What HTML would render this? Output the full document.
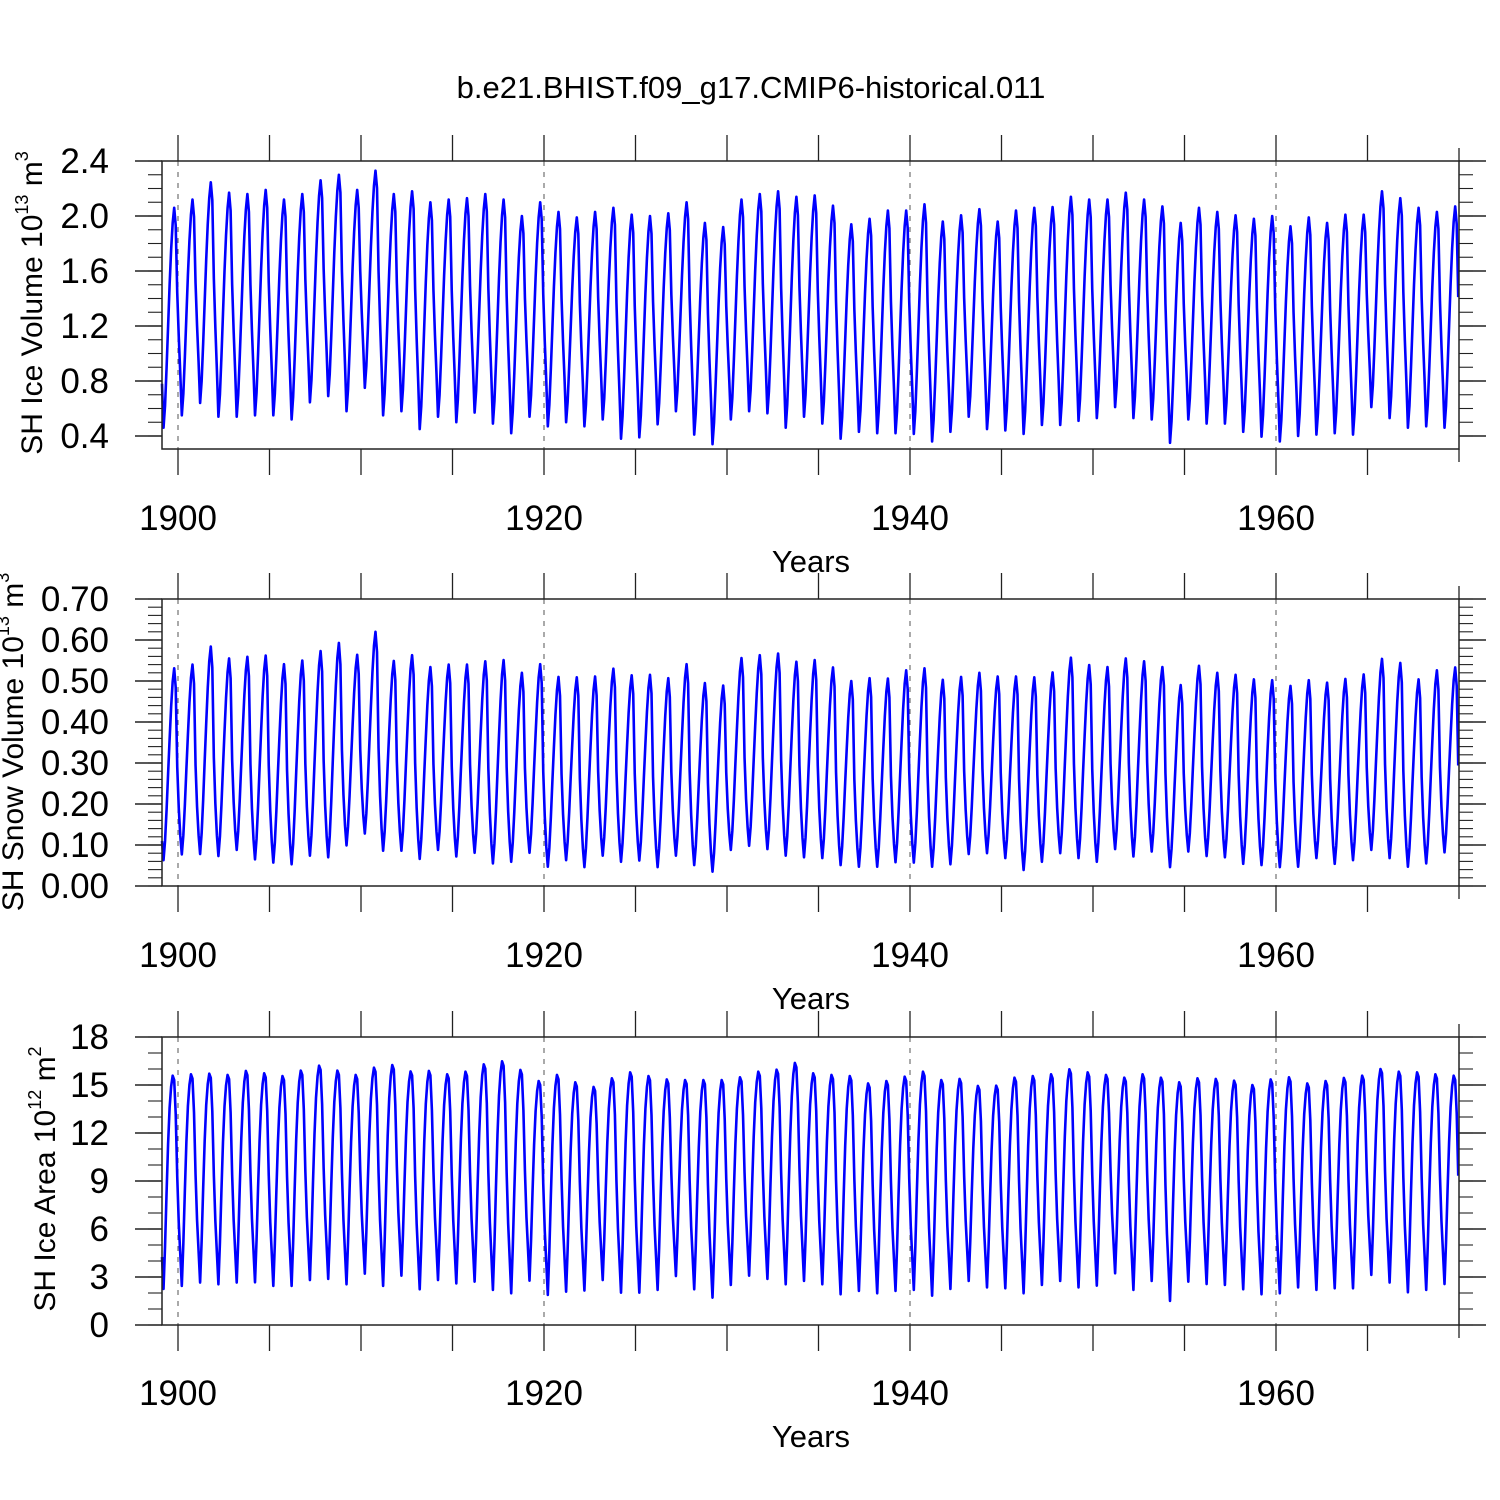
<!DOCTYPE html>
<html><head><meta charset="utf-8">
<style>
html,body{margin:0;padding:0;background:#fff;}
svg{display:block;font-family:"Liberation Sans",Arial,sans-serif;}
</style></head>
<body>
<svg id="chart" width="1500" height="1500" viewBox="0 0 1500 1500" xmlns="http://www.w3.org/2000/svg">
<rect width="1500" height="1500" fill="#fff"/>
<text x="751" y="98" font-size="31" text-anchor="middle">b.e21.BHIST.f09_g17.CMIP6-historical.011</text>
<g id="panels"></g>
</svg>
<script>
// ---- data (years 1899..1969) ----
const years = [];
for (let y = 1899; y <= 1969; y++) years.push(y);

const volPeak = [2.06,2.12,2.245,2.17,2.16,2.19,2.12,2.16,2.26,2.30,2.19,2.33,2.16,2.18,2.10,2.12,2.13,2.16,2.12,2.00,2.10,2.03,1.99,2.03,2.06,2.01,2.00,2.02,2.10,1.95,1.92,2.12,2.16,2.18,2.14,
2.15,2.075,1.94,1.98,2.04,2.04,2.085,1.96,2.005,2.05,1.96,2.04,2.06,2.065,2.14,2.12,2.12,2.17,2.12,2.07,1.95,2.06,2.03,2.005,1.98,2.00,1.925,1.99,1.95,2.01,2.01,2.18,2.13,2.06,2.03,2.07];
const volTrough = [0.46,0.55,0.64,0.54,0.54,0.55,0.55,0.52,0.645,0.69,0.58,0.75,0.55,0.58,0.45,0.54,0.50,0.57,0.49,0.42,0.54,0.47,0.50,0.47,0.52,0.38,0.39,0.485,0.58,0.41,0.34,0.52,0.58,0.565,0.46,
0.54,0.49,0.38,0.43,0.42,0.42,0.415,0.36,0.43,0.54,0.45,0.44,0.415,0.48,0.48,0.51,0.53,0.61,0.53,0.52,0.35,0.52,0.49,0.49,0.43,0.395,0.36,0.40,0.41,0.42,0.41,0.61,0.53,0.46,0.47,0.46];
const volShape = [0.38,0.2,0.0,0.1,0.27,0.46,0.65,0.81,0.93,1.0,0.92,0.59];

const snowPeak = [0.531,0.540,0.584,0.555,0.559,0.562,0.541,0.550,0.573,0.593,0.564,0.620,0.549,0.563,0.534,0.540,0.540,0.548,0.551,0.520,0.541,0.510,0.509,0.511,0.530,0.514,0.515,0.507,0.541,0.495,0.489,0.556,0.563,0.567,0.547,
0.551,0.533,0.500,0.507,0.506,0.526,0.531,0.503,0.510,0.520,0.511,0.511,0.509,0.521,0.557,0.539,0.534,0.555,0.548,0.534,0.490,0.537,0.520,0.515,0.504,0.502,0.488,0.502,0.496,0.505,0.516,0.554,0.544,0.504,0.526,0.533];
const snowTrough = [0.063,0.077,0.078,0.073,0.088,0.065,0.057,0.053,0.074,0.070,0.099,0.128,0.086,0.086,0.066,0.088,0.072,0.081,0.055,0.059,0.081,0.047,0.063,0.046,0.074,0.059,0.062,0.046,0.074,0.051,0.035,0.088,0.098,0.090,0.074,
0.070,0.068,0.051,0.047,0.047,0.058,0.057,0.047,0.053,0.078,0.080,0.068,0.039,0.059,0.080,0.068,0.059,0.090,0.072,0.084,0.046,0.084,0.073,0.070,0.054,0.051,0.046,0.047,0.068,0.054,0.063,0.088,0.068,0.047,0.055,0.082];
const snowShape = [0.25,0.1,0.0,0.1,0.26,0.45,0.63,0.8,0.93,1.0,0.9,0.47];

const areaPeak = [15.58,15.67,15.71,15.63,15.88,15.73,15.56,15.90,16.21,15.90,15.63,16.08,16.25,15.85,15.88,15.67,15.83,16.29,16.48,15.94,15.25,15.63,15.17,14.88,15.42,15.79,15.56,15.35,15.31,15.31,15.31,15.48,15.83,15.96,16.38,
15.73,15.63,15.56,15.10,15.25,15.52,15.83,15.31,15.38,14.94,14.96,15.46,15.56,15.67,15.98,15.79,15.63,15.46,15.67,15.46,15.17,15.42,15.38,15.27,15.00,15.35,15.48,15.10,15.25,15.44,15.58,16.00,15.83,15.79,15.67,15.58];
const areaTrough = [2.25,2.44,2.65,2.54,2.65,2.67,2.44,2.44,2.81,2.88,2.54,3.21,2.44,3.08,2.23,2.81,2.60,2.71,2.19,1.98,2.77,1.88,2.08,2.15,2.81,2.02,2.02,2.19,3.06,2.23,1.71,2.50,3.08,2.88,2.54,
2.75,2.54,1.92,2.13,1.98,2.13,2.19,1.83,2.25,2.75,2.35,2.29,1.98,2.50,2.75,2.35,2.46,3.23,2.19,2.75,1.50,2.71,2.56,2.50,2.23,1.92,1.98,2.35,2.19,2.29,2.29,3.13,2.65,2.04,2.19,2.56];
const areaShape = [0.3,0.15,0.0,0.2,0.45,0.68,0.85,0.95,1.0,0.98,0.82,0.52];

const xTickLabels = ["1900","1920","1940","1960"];
const xTickYears = [1900,1920,1940,1960];

// ---- layout ----
const X0 = 162, X1 = 1459;
function xScale(t){ return 178 + (t - 1900) * 18.3; }
const NS = "http://www.w3.org/2000/svg";
const root = document.getElementById('panels');
function el(tag, attrs, parent){
  const e = document.createElementNS(NS, tag);
  for (const k in attrs) e.setAttribute(k, attrs[k]);
  (parent||root).appendChild(e);
  return e;
}

function monthly(peak, trough, shape){
  const out = [];
  for (let i = 0; i <= 850; i++){
    const year = 1899 + Math.floor((i+1)/12);
    const m = (i+1) % 12;
    const k = year - 1899;
    let lo, hi;
    if (m >= 2 && m <= 10){ lo = trough[k]; hi = peak[k]; }
    else if (m === 11){ lo = trough[Math.min(k+1, trough.length-1)]; hi = peak[k]; }
    else { lo = trough[k]; hi = peak[Math.max(k-1,0)]; }
    out.push({t: 1899 + (m+0.5)/12 + (year-1899), v: lo + (hi-lo)*shape[m]});
  }
  return out;
}

const panels = [
  {name:'ice-volume', top:161, bot:449, vTop:2.4, scale:137.5, majors:[0.4,0.8,1.2,1.6,2.0,2.4], labels:["0.4","0.8","1.2","1.6","2.0","2.4"], minorStep:0.1, minorFrom:0.4, minorTo:2.4,
   peak:volPeak, trough:volTrough, shape:volShape, title:["SH Ice Volume 10","13"," m","3"], tx:42, ty:303, yearsY:572, labY:530},
  {name:'snow-volume', top:599, bot:886, vTop:0.7, scale:410, majors:[0,0.1,0.2,0.3,0.4,0.5,0.6,0.7], labels:["0.00","0.10","0.20","0.30","0.40","0.50","0.60","0.70"], minorStep:0.02, minorFrom:0, minorTo:0.7,
   peak:snowPeak, trough:snowTrough, shape:snowShape, title:["SH Snow Volume 10","13"," m","3"], tx:23, ty:742, yearsY:1009, labY:967},
  {name:'ice-area', top:1037, bot:1325, vTop:18, scale:16, majors:[0,3,6,9,12,15,18], labels:["0","3","6","9","12","15","18"], minorStep:1, minorFrom:0, minorTo:18,
   peak:areaPeak, trough:areaTrough, shape:areaShape, title:["SH Ice Area 10","12"," m","2"], tx:55, ty:1179, yearsY:1447, labY:1405}
];

panels.forEach(p => {
  const g = el('g', {});
  
  
  const yS = v => p.top + (p.vTop - v) * p.scale;

  xTickYears.forEach(yr => {
    const gl = el('line', {x1:xScale(yr), x2:xScale(yr), y1:p.top, y2:p.bot, stroke:'#555', 'stroke-width':1, 'stroke-dasharray':'5,6'}, g);
    
    
  });

  const pts = monthly(p.peak, p.trough, p.shape);
  const d = pts.map((q,i) => (i?'L':'M') + xScale(q.t).toFixed(2) + ',' + yS(q.v).toFixed(2)).join('');
  const path = el('path', {d:d, fill:'none', stroke:'#0000ff', 'stroke-width':2.6, 'stroke-linejoin':'round'}, g);
  
  

  const fr = el('rect', {x:X0, y:p.top, width:X1-X0, height:p.bot-p.top, fill:'none', stroke:'#222', 'stroke-width':1.5}, g);
  
  

  for (let yr = 1900; yr <= 1970; yr += 5){
    const x = xScale(yr);
    const len = yr === 1970 ? 13 : 26;
    el('line', {x1:x, x2:x, y1:p.top-len, y2:p.top, stroke:'#222', 'stroke-width':1.3}, g);
    el('line', {x1:x, x2:x, y1:p.bot, y2:p.bot+len, stroke:'#222', 'stroke-width':1.3}, g);
  }
  xTickYears.forEach((yr, i) => {
    const t = el('text', {x:xScale(yr), y:p.labY, 'font-size':35, 'text-anchor':'middle'}, g);
    t.textContent = xTickLabels[i];
    
    
  });
  const xt = el('text', {x:811, y:p.yearsY, 'font-size':31, 'text-anchor':'middle'}, g);
  xt.textContent = 'Years';
  
  

  const nMin = Math.round((p.minorTo - p.minorFrom)/p.minorStep);
  for (let k = 0; k <= nMin; k++){
    const v = p.minorFrom + k*p.minorStep;
    const y = yS(v);
    if (y < p.top - 0.5 || y > p.bot + 0.5) continue;
    el('line', {x1:X0-14, x2:X0, y1:y, y2:y, stroke:'#222', 'stroke-width':1.1}, g);
    el('line', {x1:X1, x2:X1+14, y1:y, y2:y, stroke:'#222', 'stroke-width':1.1}, g);
  }
  p.majors.forEach((v, i) => {
    const y = yS(v);
    el('line', {x1:X0-27, x2:X0, y1:y, y2:y, stroke:'#222', 'stroke-width':1.4}, g);
    el('line', {x1:X1, x2:X1+27, y1:y, y2:y, stroke:'#222', 'stroke-width':1.4}, g);
    const t = el('text', {x:109, y:y+12, 'font-size':35, 'text-anchor':'end'}, g);
    t.textContent = p.labels[i];
    
    
  });

  const yt = el('text', {x:0, y:0, 'font-size':30, 'text-anchor':'middle', transform:'translate(' + p.tx + ',' + p.ty + ') rotate(-90)'}, g);
  
  
  const s1 = el('tspan', {}, yt); s1.textContent = p.title[0];
  const s2 = el('tspan', {dy:-14, 'font-size':18}, yt); s2.textContent = p.title[1];
  const s3 = el('tspan', {dy:14}, yt); s3.textContent = p.title[2];
  const s4 = el('tspan', {dy:-14, 'font-size':18}, yt); s4.textContent = p.title[3];
});
</script>
</body></html>
